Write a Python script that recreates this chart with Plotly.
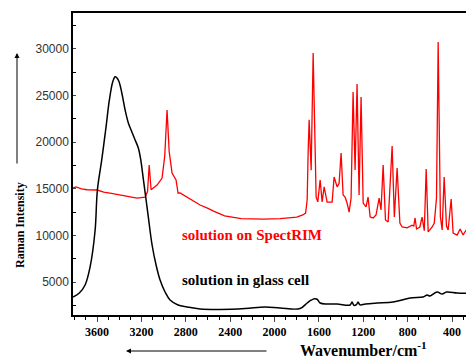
import plotly.graph_objects as go

# Red: solution on SpectRIM
red_wn = [3817, 3790, 3740, 3690, 3600, 3540, 3470, 3390, 3320, 3240, 3167, 3145, 3130, 3113,
          3059, 3014, 2990, 2969, 2950, 2924, 2888, 2870, 2852, 2806, 2760, 2700, 2671, 2600,
          2550, 2450, 2300, 2100, 1950, 1800, 1745, 1720, 1706, 1697, 1688, 1670, 1652, 1625,
          1610, 1589, 1571, 1553, 1526, 1481, 1463, 1436, 1418, 1400, 1382, 1364, 1346, 1328,
          1310, 1292, 1274, 1256, 1238, 1220, 1201, 1175, 1157, 1138, 1111, 1085, 1057, 1040,
          1021, 1000, 976, 940, 920, 895, 870, 850, 805, 760, 745, 733, 720, 690, 670, 650,
          633, 615, 579, 560, 540, 525, 505, 489, 471, 450, 435, 408, 390, 354, 327, 300, 273]
red_int = [15100, 15200, 15000, 14900, 14870, 14650, 14500, 14330, 14150, 14000, 14100, 14700, 17550, 14900,
           15400, 16150, 18500, 23450, 19000, 16700, 15950, 14550, 14550, 14230, 13900, 13500, 13260, 12900,
           12600, 12100, 11800, 11750, 11800, 11970, 12190, 12400, 13800, 19000, 22400, 17000, 29570, 14100,
           13600, 15950, 13580, 15200, 13580, 13580, 16260, 15200, 15600, 18840, 14330, 14100, 13470, 12500,
           14000, 25390, 17020, 26240, 14330, 24850, 13470, 13050, 14100, 11970, 11870, 12200, 14000, 12730,
           17550, 11650, 11440, 19600, 11970, 17230, 11330, 10900, 10800, 11100, 11000, 11870, 10690, 10900, 11970, 10500,
           17120, 10370, 10900, 11330, 14000, 30750, 12000, 10580, 16270, 11000, 10580, 13900, 10250, 10040, 10690, 10040, 10580]

# Black: solution in glass cell
blk_wn = [3817, 3760, 3708, 3663, 3618, 3597, 3558, 3519, 3489, 3458, 3437, 3408, 3377, 3347, 3318,
          3287, 3257, 3228, 3206, 3182, 3158, 3137, 3104, 3068, 3032, 2987, 2942, 2870, 2788, 2671,
          2491, 2265, 2085, 1950, 1770, 1706, 1670, 1640, 1616, 1589, 1526, 1436, 1319, 1301, 1285,
          1260, 1247, 1230, 1180, 1075, 931, 778, 661, 624, 600, 534, 489, 450, 354, 273]
blk_int = [3390, 3820, 4680, 6610, 10500, 14870, 18100, 21650, 24530, 26500, 27030, 26670, 25280, 23450, 22060,
           21130, 20240, 19380, 18100, 15950, 13800, 11870, 8970, 6820, 5210, 3930, 3070, 2530, 2320, 2100,
           2050, 2150, 2320, 2210, 2150, 2750, 3050, 3200, 3150, 2750, 2640, 2640, 2530, 2850, 2500,
           2600, 2850, 2550, 2650, 2750, 2850, 3280, 3390, 3600, 3500, 3930, 3700, 3930, 3820, 3800]

x_ticks = [3600, 3200, 2800, 2400, 2000, 1600, 1200, 800, 400]
x_labels = ["3600", "3200", "2800", "2400", "2000", "1600", "1200", "800", "400"]
y_ticks = [5000, 10000, 15000, 20000, 25000, 30000]
y_labels = ["5000", "10000", "15000", "20000", "25000", "30000"]

serif = "Liberation Serif"

fig = go.Figure()
fig.add_trace(go.Scatter(x=red_wn, y=red_int, mode="lines",
                         line=dict(color="#ff0000", width=1.3), showlegend=False))
fig.add_trace(go.Scatter(x=blk_wn, y=blk_int, mode="lines", line_shape="spline",
                         line=dict(color="#000000", width=1.5), showlegend=False))

fig.update_layout(
    width=466, height=358,
    margin=dict(l=73, r=0, t=13, b=43),
    paper_bgcolor="white", plot_bgcolor="white",
    xaxis=dict(range=[3817, 274], tickvals=x_ticks, ticktext=x_labels, ticks="outside", ticklen=5,
               tickwidth=1, showline=True, linecolor="black", linewidth=1.5, mirror=True,
               showgrid=False, zeroline=False,
               tickfont=dict(family=serif, size=12, color="black", weight="bold"),
               minor=dict(dtick=100, ticks="outside", ticklen=3, tickcolor="black")),
    yaxis=dict(range=[1460, 33860], tickvals=y_ticks, ticktext=y_labels, ticks="inside", ticklen=3,
               showline=True, linecolor="black", linewidth=1.5, showgrid=False, zeroline=False,
               tickfont=dict(family="Liberation Sans", size=12, color="#333333"),
               minor=dict(dtick=2500, tick0=0, ticks="inside", ticklen=3, tickcolor="black")),
    annotations=[
        dict(text="solution on SpectRIM", xref="paper", yref="paper",
             x=(180 - 73) / 393, y=(315 - 235) / 302, xanchor="left", yanchor="middle",
             showarrow=False, font=dict(family=serif, size=15, color="#ff0000", weight="bold")),
        dict(text="solution in glass cell", xref="paper", yref="paper",
             x=(180 - 73) / 393, y=(315 - 280) / 302, xanchor="left", yanchor="middle",
             showarrow=False, font=dict(family=serif, size=15, color="black", weight="bold")),
        dict(text="Raman Intensity", xref="paper", yref="paper",
             x=(20 - 73) / 393, y=(315 - 225) / 302, xanchor="center", yanchor="middle",
             textangle=-90, showarrow=False,
             font=dict(family=serif, size=12, color="black", weight="bold")),
        dict(text="Wavenumber/cm<sup>-1</sup>", xref="paper", yref="paper",
             x=(363 - 73) / 393, y=(315 - 349) / 302, xanchor="center", yanchor="middle",
             showarrow=False, font=dict(family=serif, size=16, color="black", weight="bold")),
        dict(text="", xref="paper", yref="paper",
             x=(17 - 73) / 393, y=(315 - 53) / 302, ax=0, ay=112,
             showarrow=True, arrowhead=2, arrowsize=1, arrowwidth=1, arrowcolor="black"),
        dict(text="", xref="paper", yref="paper",
             x=(126 - 73) / 393, y=(315 - 351) / 302, ax=142, ay=0,
             showarrow=True, arrowhead=2, arrowsize=1, arrowwidth=1, arrowcolor="black"),
    ],
)

fig.write_html("out.html", config={"displayModeBar": False},
               post_script="document.body.style.margin='0';")
